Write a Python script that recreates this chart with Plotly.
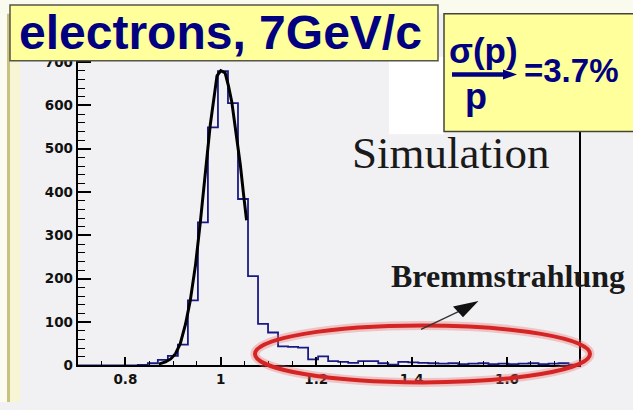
import plotly.graph_objects as go

W, H = 633, 410

# ---- histogram: 50 equal bins over [0.7, 1.75] (p_reco / p_true) ----
x_lo, x_hi, n_bins = 0.7, 1.75, 50
counts = [0, 0, 0, 0, 0, 0, 1, 5, 13, 22,
          48, 150, 330, 549, 679, 605, 384, 206, 96, 76,
          44, 43, 41, 14, 21, 10, 8, 6, 10, 10,
          5, 2, 8, 7, 6, 5, 4, 5, 3, 4,
          5, 3, 4, 3, 4, 5, 3, 4, 5, 2]

# ---- fitted peak curve (sampled points) ----
fit_x = [0.870, 0.884, 0.895, 0.905, 0.915, 0.926, 0.936, 0.947, 0.957, 0.964,
         0.971, 0.978, 0.985, 0.992, 1.000, 1.009, 1.016, 1.023, 1.034, 1.041,
         1.048, 1.054]
fit_y = [3, 8, 15, 27, 50, 95, 150, 232, 330, 410,
         490, 556, 612, 668, 680, 675, 645, 608, 519, 462,
         391, 335]

# ---- axis ticks ----
x_tickvals = [0.8, 1.0, 1.2, 1.4, 1.6]
x_ticktext = ["0.8", "1", "1.2", "1.4", "1.6"]
y_tickvals = [0, 100, 200, 300, 400, 500, 600, 700]
y_ticktext = ["0", "100", "200", "300", "400", "500", "600", "700"]

title_text = "electrons, 7GeV/c"
sigma_num = "σ(p)"
sigma_den = "p"
sigma_val = "=3.7%"
sim_text = "Simulation"
brems_text = "Bremmstrahlung"

HIST_COLOR = "#1a1a86"
NAVY = "#000080"
BOX_FILL = "#ffff9c"


def px(x):
    return x / W


def py(y):
    return 1 - y / H


def rect(x0, y0, x1, y1, fill, line=None, lw=0, layer="above"):
    return dict(type="rect", xref="paper", yref="paper",
                x0=px(x0), x1=px(x1), y0=py(y1), y1=py(y0),
                fillcolor=fill, layer=layer,
                line=dict(color=line or fill, width=lw))


def poly(points, fill, line=None, lw=0, closed=True):
    d = "M " + " L ".join(f"{px(a):.5f},{py(b):.5f}" for a, b in points)
    if closed:
        d += " Z"
    return dict(type="path", xref="paper", yref="paper", path=d,
                fillcolor=fill if closed else None, layer="above",
                line=dict(color=line or fill, width=lw))


def seg(x0, y0, x1, y1, color, lw):
    return dict(type="line", xref="paper", yref="paper",
                x0=px(x0), y0=py(y0), x1=px(x1), y1=py(y1),
                layer="above", line=dict(color=color, width=lw))


fig = go.Figure()

edges = [x_lo + i * (x_hi - x_lo) / n_bins for i in range(n_bins + 1)]
fig.add_trace(go.Scatter(
    x=edges, y=counts + [counts[-1]], mode="lines",
    line=dict(shape="hv", color=HIST_COLOR, width=1.8),
    hoverinfo="skip", showlegend=False))
fig.add_trace(go.Scatter(
    x=fit_x, y=fit_y, mode="lines",
    line=dict(color="black", width=3),
    hoverinfo="skip", showlegend=False))

tick_font = dict(family="DejaVu Sans", size=13.5, color="#111111", weight="bold")

fig.update_xaxes(
    range=[x_lo, x_hi], domain=[px(77.7), px(578.6)],
    showline=True, linecolor="black", linewidth=2, mirror=False,
    showgrid=False, zeroline=False,
    ticks="inside", ticklen=8, tickwidth=1.5, tickcolor="black",
    tickvals=x_tickvals, ticktext=x_ticktext, tickfont=tick_font,
    minor=dict(ticks="inside", ticklen=4, tickwidth=1.2, tickcolor="black",
               tick0=0.8, dtick=0.05),
)
fig.update_yaxes(
    range=[0, 730], domain=[py(372.7), py(50)],
    showline=True, linecolor="black", linewidth=2, mirror=True,
    showgrid=False, zeroline=False,
    ticks="inside", ticklen=13, tickwidth=1.5, tickcolor="black",
    tickvals=y_tickvals, ticktext=y_ticktext, tickfont=tick_font,
    minor=dict(ticks="inside", ticklen=7, tickwidth=1.2, tickcolor="black",
               tick0=0, dtick=20),
)

shapes = [
    # slide edge at the left
    rect(0, 0, 7, 410, "#fbfbf2", layer="below"),
    rect(7, 0, 10, 410, "#c9c27e", layer="below"),
    rect(10, 0, 20, 410, "#f7f5d3", layer="below"),
    rect(0, 0, 633, 14, "#fbfaee", layer="below"),
    # white patch between the two boxes
    rect(389, 58, 444, 137, "#ffffff"),
    # title box
    rect(10, 5, 438, 62, BOX_FILL, line="#555548", lw=1.5),
    # resolution box
    rect(444, 14, 640, 134, BOX_FILL, line="#444438", lw=1.5),
    # fraction bar drawn as an arrow
    seg(452, 76, 506, 76, NAVY, 4.5),
    poly([(503, 71), (517, 76), (503, 81)], NAVY),
    # red ellipse round the radiative tail
    dict(type="circle", xref="paper", yref="paper",
         x0=px(255), x1=px(590), y0=py(390), y1=py(332),
         layer="above", line=dict(color="rgba(235,110,110,0.35)", width=9)),
    dict(type="circle", xref="paper", yref="paper",
         x0=px(255), x1=px(590), y0=py(390), y1=py(332),
         layer="above", line=dict(color="#d42424", width=4)),
    # pointer from the label to the tail
    seg(421, 336, 460, 317, "#333333", 1.3),
    poly([(478.5, 307), (453, 312.5), (463, 323.5)], "#111111"),
]

annotations = [
    dict(text=f"<b>{title_text}</b>", x=px(220.5), y=py(33.5),
         font=dict(family="Liberation Sans", size=48, color=NAVY)),
    dict(text=f"<b>{sigma_num}</b>", x=px(483), y=py(51),
         font=dict(family="Liberation Sans", size=35, color=NAVY)),
    dict(text=f"<b>{sigma_den}</b>", x=px(476), y=py(98),
         font=dict(family="Liberation Sans", size=36, color=NAVY)),
    dict(text=f"<b>{sigma_val}</b>", x=px(571), y=py(72),
         font=dict(family="Liberation Sans", size=33, color=NAVY)),
    dict(text=sim_text, x=px(451), y=py(156),
         font=dict(family="Liberation Serif", size=45, color="#1a1a1a")),
    dict(text=f"<b>{brems_text}</b>", x=px(507.5), y=py(281),
         font=dict(family="Liberation Serif", size=32, color="#1a1a1a")),
]
for a in annotations:
    a.update(xref="paper", yref="paper", xanchor="center", yanchor="middle",
             showarrow=False)

fig.update_layout(
    width=W, height=H, margin=dict(l=0, r=0, t=0, b=0),
    paper_bgcolor="#f1f1f3", plot_bgcolor="#f1f1f3",
    shapes=shapes, annotations=annotations, showlegend=False,
)

fig.write_html("out.html", config={"displayModeBar": False})
